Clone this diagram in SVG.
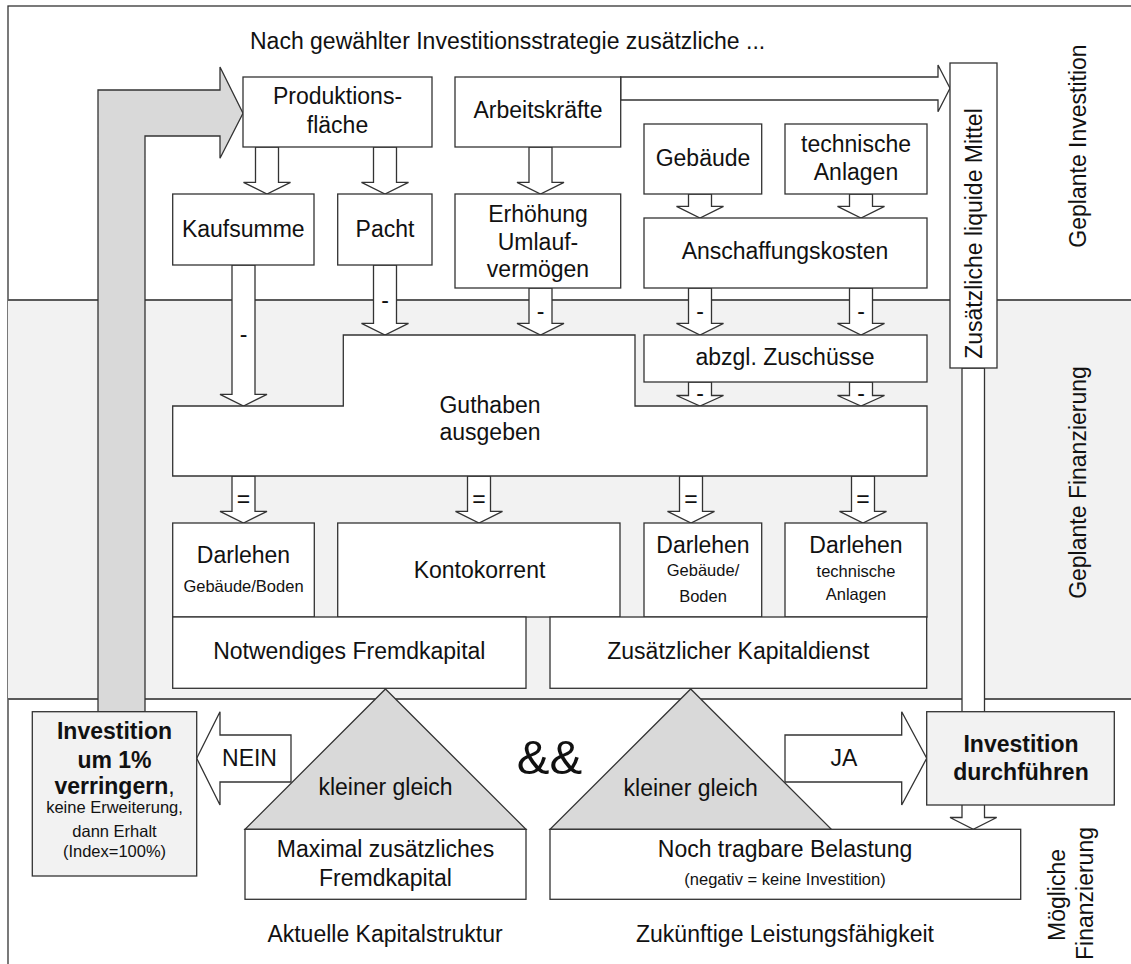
<svg xmlns="http://www.w3.org/2000/svg" width="1131" height="964" viewBox="0 0 1131 964">
  <style>
    text { font-family: "Liberation Sans", Arial, sans-serif; font-size: 23px; fill: #111; text-anchor: middle; }
    .s { font-size: 16.5px; }
    .b { font-weight: bold; }
    .amp { font-size: 49px; }
    .box { fill: #fff; stroke: #333; stroke-width: 1.3; }
    .grey { fill: #f2f2f2; stroke: #333; stroke-width: 1.3; }
    .tri { fill: #d9d9d9; stroke: #333; stroke-width: 1.3; }
    .arr { fill: #fff; stroke: #333; stroke-width: 1.3; stroke-linejoin: miter; }
    .big { fill: #d9d9d9; stroke: #333; stroke-width: 1.3; }
    .sep { stroke: #5a5a5a; stroke-width: 1.8; fill: none; }
  </style>

  <!-- frame and bands -->
  <g id="background">
    <rect x="8" y="6" width="1140" height="980" fill="#fff" stroke="#333" stroke-width="1.3"/>
    <rect x="8" y="300" width="1123" height="399" fill="#f2f2f2"/>
    <line class="sep" x1="8" y1="300" x2="1131" y2="300"/>
    <line class="sep" x1="8" y1="699" x2="1131" y2="699"/>
  </g>

  <!-- band labels -->
  <g id="band-labels">
    <text x="250" y="49" style="text-anchor:start">Nach gewählter Investitionsstrategie zusätzliche ...</text>
    <text transform="translate(1086,146) rotate(-90)">Geplante Investition</text>
    <text transform="translate(1086,482.5) rotate(-90)">Geplante Finanzierung</text>
    <text transform="translate(1065,895) rotate(-90)">Mögliche</text>
    <text transform="translate(1093,893.5) rotate(-90)">Finanzierung</text>
    <text x="385" y="941.5">Aktuelle Kapitalstruktur</text>
    <text x="785" y="941.5">Zukünftige Leistungsfähigkeit</text>
  </g>

  <!-- connectors -->
  <g id="connectors">
    <!-- feedback arrow: reduce investment and restart -->
    <polygon class="big" points="98,711.7 98,90 220,90 220,67 243,113.3 220,158.3 220,136 145,136 145,711.7"/>
    <!-- labour to liquid funds -->
    <polygon class="arr" points="620.7,77 938,77 938,65 950,88.3 938,111.7 938,100 620.7,100"/>
    <!-- liquid funds down to bearable burden -->
    <polygon class="arr" points="962,368 984.5,368 984.5,817.5 996.7,817.5 973.3,829.3 950,817.5 962,817.5"/>

    <polygon class="arr" points="255.5,147 278.5,147 278.5,182.3 290.5,182.3 267,194 243.5,182.3 255.5,182.3"/>
    <polygon class="arr" points="373.5,147 396.5,147 396.5,182.3 408.5,182.3 385,194 361.5,182.3 373.5,182.3"/>
    <polygon class="arr" points="529,147 552,147 552,182.3 564,182.3 540.5,194 517,182.3 529,182.3"/>
    <polygon class="arr" points="688.5,194 711.5,194 711.5,206.3 723.5,206.3 700,218 676.5,206.3 688.5,206.3"/>
    <polygon class="arr" points="849.5,194 872.5,194 872.5,206.3 884.5,206.3 861,218 837.5,206.3 849.5,206.3"/>

    <polygon class="arr" points="232,265 255,265 255,394.3 267,394.3 243.5,406 220,394.3 232,394.3"/>
    <polygon class="arr" points="373.5,265 396.5,265 396.5,323.3 408.5,323.3 385,335 361.5,323.3 373.5,323.3"/>
    <polygon class="arr" points="529,288 552,288 552,323.3 564,323.3 540.5,335 517,323.3 529,323.3"/>
    <polygon class="arr" points="688.5,288 711.5,288 711.5,323.3 723.5,323.3 700,335 676.5,323.3 688.5,323.3"/>
    <polygon class="arr" points="849.5,288 872.5,288 872.5,323.3 884.5,323.3 861,335 837.5,323.3 849.5,323.3"/>
    <polygon class="arr" points="688.5,382 711.5,382 711.5,395.5 723.5,395.5 700,406 676.5,395.5 688.5,395.5"/>
    <polygon class="arr" points="849.5,382 872.5,382 872.5,395.5 884.5,395.5 861,406 837.5,395.5 849.5,395.5"/>

    <polygon class="arr" points="232,476 255,476 255,511.3 267,511.3 243.5,523 220,511.3 232,511.3"/>
    <polygon class="arr" points="467.5,476 490.5,476 490.5,511.3 502.5,511.3 479,523 455.5,511.3 467.5,511.3"/>
    <polygon class="arr" points="679.5,476 702.5,476 702.5,511.3 714.5,511.3 691,523 667.5,511.3 679.5,511.3"/>
    <polygon class="arr" points="851.5,476 874.5,476 874.5,511.3 886.5,511.3 863,523 839.5,511.3 851.5,511.3"/>

    <!-- decision arrows -->
    <polygon class="arr" points="196.7,758.3 220,711.7 220,735 291,735 291,782 220,782 220,805"/>
    <polygon class="arr" points="785,735 901.7,735 901.7,711.7 926.7,758.3 901.7,805 901.7,782 785,782"/>

    <!-- operator labels -->
    <text x="243.5" y="342">-</text>
    <text x="385" y="308">-</text>
    <text x="540.5" y="319">-</text>
    <text x="700" y="319">-</text>
    <text x="861" y="319">-</text>
    <text x="700" y="401">-</text>
    <text x="861" y="401">-</text>
    <text x="243.5" y="507">=</text>
    <text x="479" y="507">=</text>
    <text x="691" y="507">=</text>
    <text x="863" y="507">=</text>
    <text x="249.5" y="765.5">NEIN</text>
    <text x="844" y="765.5">JA</text>
  </g>

  <!-- planned investment -->
  <g id="produktionsflaeche">
    <rect class="box" x="243" y="77" width="189" height="70"/>
    <text x="337.5" y="104">Produktions-</text>
    <text x="337.5" y="132.5">fläche</text>
  </g>
  <g id="arbeitskraefte">
    <rect class="box" x="455" y="77" width="165.7" height="70"/>
    <text x="538" y="118.3">Arbeitskräfte</text>
  </g>
  <g id="gebaeude">
    <rect class="box" x="644" y="124" width="117.7" height="70"/>
    <text x="703" y="165.7">Gebäude</text>
  </g>
  <g id="technische-anlagen">
    <rect class="box" x="785" y="124" width="142" height="70"/>
    <text x="856" y="152">technische</text>
    <text x="856" y="179.5">Anlagen</text>
  </g>
  <g id="kaufsumme">
    <rect class="box" x="172.7" y="194" width="141.3" height="71"/>
    <text x="243.3" y="237">Kaufsumme</text>
  </g>
  <g id="pacht">
    <rect class="box" x="337.7" y="194" width="94.3" height="71"/>
    <text x="385" y="237">Pacht</text>
  </g>
  <g id="umlaufvermoegen">
    <rect class="box" x="455" y="194" width="165.7" height="94"/>
    <text x="538" y="222">Erhöhung</text>
    <text x="538" y="250">Umlauf-</text>
    <text x="538" y="277">vermögen</text>
  </g>
  <g id="anschaffungskosten">
    <rect class="box" x="644" y="218" width="283" height="70"/>
    <text x="785" y="259.3">Anschaffungskosten</text>
  </g>
  <g id="liquide-mittel">
    <rect class="box" x="950" y="63" width="47" height="305"/>
    <text transform="translate(981.5,233.5) rotate(-90)">Zusätzliche liquide Mittel</text>
  </g>

  <!-- planned financing -->
  <g id="zuschuesse">
    <rect class="box" x="644" y="335" width="283" height="47"/>
    <text x="785" y="365">abzgl. Zuschüsse</text>
  </g>
  <g id="guthaben">
    <polygon class="box" points="172.7,406 343.3,406 343.3,335 635,335 635,406 927,406 927,476 172.7,476"/>
    <text x="490" y="412.7">Guthaben</text>
    <text x="490" y="440">ausgeben</text>
  </g>
  <g id="darlehen-boden">
    <rect class="box" x="172.7" y="523" width="141.6" height="94"/>
    <text x="243.5" y="563.3">Darlehen</text>
    <text class="s" x="243.5" y="591.7">Gebäude/Boden</text>
  </g>
  <g id="kontokorrent">
    <rect class="box" x="337.7" y="523" width="282.3" height="94"/>
    <text x="479.5" y="577.7">Kontokorrent</text>
  </g>
  <g id="darlehen-gebaeude">
    <rect class="box" x="644" y="523" width="117.7" height="94"/>
    <text x="703" y="553.3">Darlehen</text>
    <text class="s" x="703" y="576">Gebäude/</text>
    <text class="s" x="703" y="601.5">Boden</text>
  </g>
  <g id="darlehen-anlagen">
    <rect class="box" x="785" y="523" width="142" height="94"/>
    <text x="856" y="553.3">Darlehen</text>
    <text class="s" x="856" y="576.7">technische</text>
    <text class="s" x="856" y="600">Anlagen</text>
  </g>
  <g id="fremdkapital">
    <rect class="box" x="172.7" y="617" width="353.3" height="71.3"/>
    <text x="349.3" y="659.3">Notwendiges Fremdkapital</text>
  </g>
  <g id="kapitaldienst">
    <rect class="box" x="550" y="617" width="376.7" height="71.3"/>
    <text x="738.3" y="659.3">Zusätzlicher Kapitaldienst</text>
  </g>

  <!-- possible financing -->
  <g id="vergleich-kapitalstruktur">
    <polygon class="tri" points="385.5,689 526,829.3 245,829.3"/>
    <text x="385.5" y="795">kleiner gleich</text>
  </g>
  <g id="vergleich-leistung">
    <polygon class="tri" points="690.7,689 831.4,829.3 550,829.3"/>
    <text x="690.7" y="796">kleiner gleich</text>
  </g>
  <g id="und">
    <text class="amp" x="549.5" y="774">&amp;&amp;</text>
  </g>
  <g id="max-fremdkapital">
    <rect class="box" x="245" y="829.3" width="281" height="70"/>
    <text x="385.5" y="856.7">Maximal zusätzliches</text>
    <text x="385.5" y="885.5">Fremdkapital</text>
  </g>
  <g id="tragbare-belastung">
    <rect class="box" x="550" y="829.3" width="470.7" height="70"/>
    <text x="785" y="857">Noch tragbare Belastung</text>
    <text class="s" x="785" y="885">(negativ = keine Investition)</text>
  </g>
  <g id="investition-verringern">
    <rect class="grey" x="32.3" y="711.7" width="164.4" height="164.3"/>
    <text class="b" x="114.5" y="739">Investition</text>
    <text class="b" x="114.5" y="767.5">um 1%</text>
    <text x="114.5" y="794"><tspan class="b">verringern</tspan>,</text>
    <text class="s" x="114.5" y="813">keine Erweiterung,</text>
    <text class="s" x="114.5" y="837">dann Erhalt</text>
    <text class="s" x="114.5" y="857">(Index=100%)</text>
  </g>
  <g id="investition-durchfuehren">
    <rect class="grey" x="926.7" y="711.7" width="187.6" height="93.3"/>
    <text class="b" x="1021" y="752.3">Investition</text>
    <text class="b" x="1021" y="780">durchführen</text>
  </g>
</svg>
